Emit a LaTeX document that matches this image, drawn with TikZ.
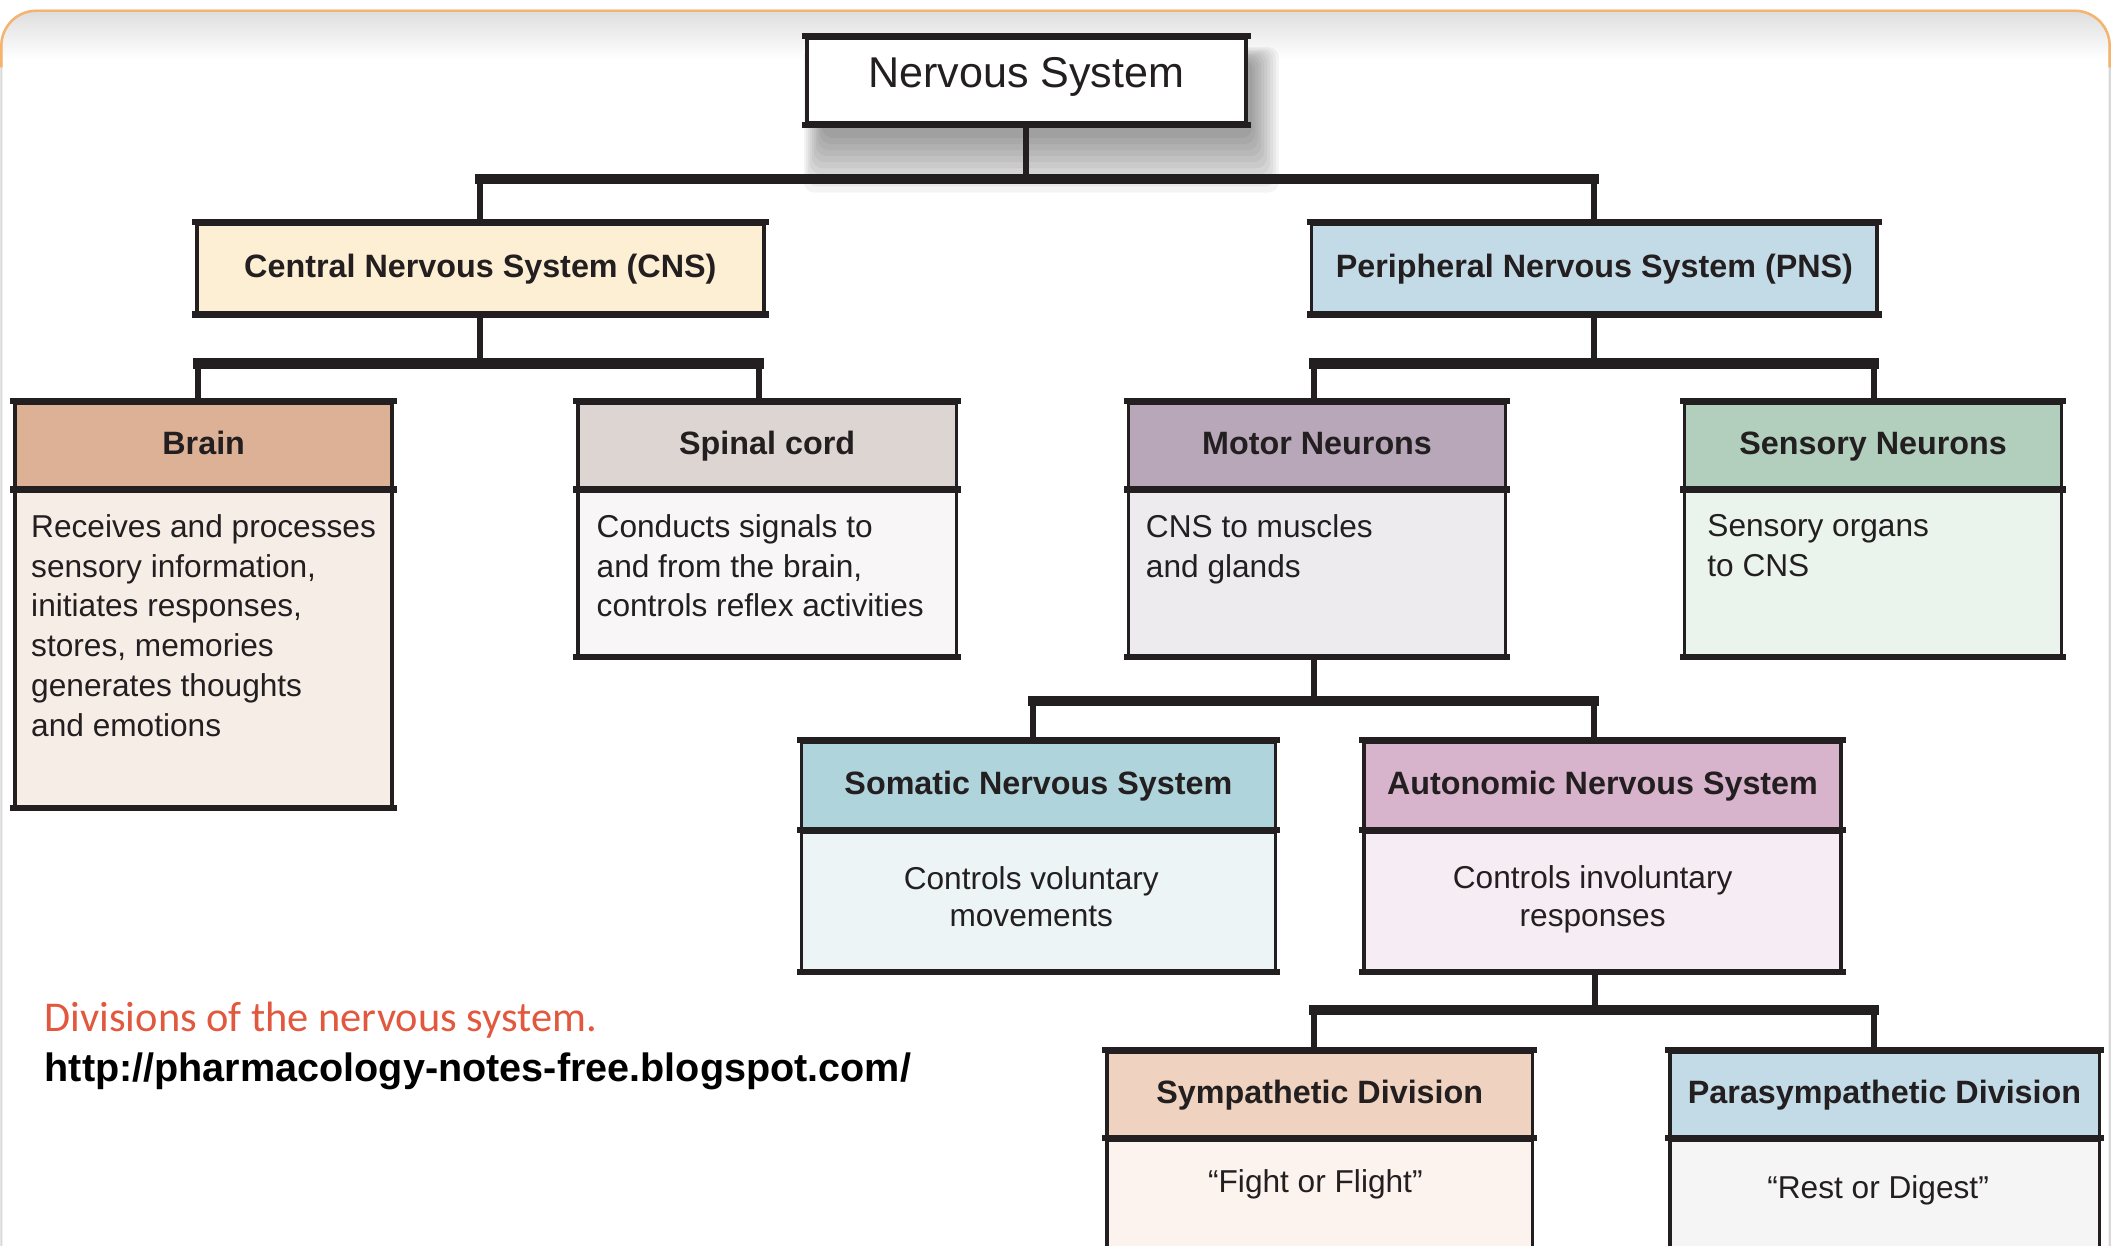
\documentclass[tikz,border=0pt]{standalone}
\usepackage{fontspec}
\setmainfont{Liberation Sans}
\newfontfamily\capfont{Carlito}
\definecolor{lc}{HTML}{231F20}
\definecolor{tc}{HTML}{231F20}
\definecolor{capred}{HTML}{E2583E}
\definecolor{frameorange}{HTML}{F6B36C}
\definecolor{framegray}{HTML}{D8D8D8}
\definecolor{cnsfill}{HTML}{FDEFD3}
\definecolor{pnsfill}{HTML}{C3DBE6}
\definecolor{brainH}{HTML}{DCB196}
\definecolor{brainB}{HTML}{F6EDE7}
\definecolor{spinH}{HTML}{DDD5D2}
\definecolor{spinB}{HTML}{F8F6F6}
\definecolor{motH}{HTML}{B8A7B9}
\definecolor{motB}{HTML}{EEEBEF}
\definecolor{senH}{HTML}{B1CFBC}
\definecolor{senB}{HTML}{EAF4EC}
\definecolor{somH}{HTML}{B0D4DB}
\definecolor{somB}{HTML}{ECF4F6}
\definecolor{autH}{HTML}{D8B3CC}
\definecolor{autB}{HTML}{F6ECF3}
\definecolor{symH}{HTML}{EFD2C0}
\definecolor{symB}{HTML}{FCF3EF}
\definecolor{parH}{HTML}{C3DBE6}
\definecolor{parB}{HTML}{F6F5F6}
\newcommand{\hfont}{\bfseries\fontsize{24}{28}\selectfont}
\newcommand{\btfont}{\fontsize{23.5}{29.5}\selectfont}
\newcommand{\ctfont}{\fontsize{23.5}{28}\selectfont}
\begin{document}
\begin{tikzpicture}[x=1pt,y=-1pt,
  box/.style={rectangle, draw=lc, line width=2.6pt, inner sep=0pt, anchor=north west, text=tc},
  hdr/.style={box, font=\hfont, text height=17pt, text depth=3pt},
  edgeline/.style={draw=lc, line width=4.5pt, line cap=rect},
  stem/.style={draw=lc, line width=4.5pt},
  bar/.style={draw=lc, line width=7.5pt, line cap=rect},
  ltxt/.style={anchor=north west, align=left, font=\btfont, inner sep=0pt, text=tc},
  ctxt/.style={align=center, font=\ctfont, inner sep=0pt, text=tc}]
\useasboundingbox (0,0) rectangle (1568,925);
\fill[white] (0,0) rectangle (1568,925);
% frame
\begin{scope}
\clip[rounded corners=26pt] (1,930) -- (1,8) -- (1567,8) -- (1567,930) -- cycle;
\shade[top color=black!13, bottom color=white] (0,8) rectangle (1568,44);
\end{scope}
\draw[framegray, line width=1.6pt, rounded corners=26pt] (1,930) -- (1,8) -- (1567,8) -- (1567,930);
\draw[frameorange, line width=1.8pt, rounded corners=26pt] (1,50) -- (1,8) -- (1567,8) -- (1567,50);
% shadow of top box
\foreach \i in {1,...,10} {
  \fill[black, opacity=0.045, rounded corners=8pt] (612-1.5*\i,45-\i) rectangle (928+2.2*\i,98+4.5*\i);
}
% top box
\node[box, fill=white, minimum width=326pt, minimum height=63pt, font=\fontsize{32}{36}\selectfont, text height=23pt, text depth=12pt] (ns) at (598,27) {Nervous System};
% level 1
\node[hdr, fill=cnsfill, minimum width=421pt, minimum height=66pt] (cns) at (145,165) {Central Nervous System (CNS)};
\node[hdr, fill=pnsfill, minimum width=420pt, minimum height=66pt] (pns) at (973,165) {Peripheral Nervous System (PNS)};
\foreach \n in {ns,cns,pns} {
  \draw[edgeline] (\n.north west) -- (\n.north east);
  \draw[edgeline] (\n.south west) -- (\n.south east);
}
% level 2
\node[hdr, fill=brainH, minimum width=280pt, minimum height=63pt] (brainH) at (10,298) {Brain};
\node[box, fill=brainB, minimum width=280pt, minimum height=234pt] (brainB) at (brainH.south west) {};
\node[hdr, fill=spinH, minimum width=281pt, minimum height=63pt] (spinalH) at (428,298) {Spinal cord};
\node[box, fill=spinB, minimum width=281pt, minimum height=122pt] (spinalB) at (spinalH.south west) {};
\node[hdr, fill=motH, minimum width=280pt, minimum height=63pt] (motorH) at (837,298) {Motor Neurons};
\node[box, fill=motB, minimum width=280pt, minimum height=122pt] (motorB) at (motorH.south west) {};
\node[hdr, fill=senH, minimum width=280pt, minimum height=63pt] (sensH) at (1250,298) {Sensory Neurons};
\node[box, fill=senB, minimum width=280pt, minimum height=122pt] (sensB) at (sensH.south west) {};
% level 3
\node[hdr, fill=somH, minimum width=352pt, minimum height=64pt] (somH) at (594,550) {Somatic Nervous System};
\node[box, fill=somB, minimum width=352pt, minimum height=103pt] (somB) at (somH.south west) {};
\node[hdr, fill=autH, minimum width=354pt, minimum height=64pt] (autH) at (1012,550) {Autonomic Nervous System};
\node[box, fill=autB, minimum width=354pt, minimum height=103pt] (autB) at (autH.south west) {};
% level 4
\node[hdr, fill=symH, minimum width=316pt, minimum height=63pt] (symH) at (821,780) {Sympathetic Division};
\node[box, fill=symB, minimum width=316pt, minimum height=110pt] (symB) at (symH.south west) {};
\node[hdr, fill=parH, minimum width=319pt, minimum height=63pt] (parH) at (1239,780) {Parasympathetic Division};
\node[box, fill=parB, minimum width=319pt, minimum height=110pt] (parB) at (parH.south west) {};
\foreach \n in {brain,spinal,motor,sens,som,aut,sym,par} {
  \draw[edgeline] (\n H.north west) -- (\n H.north east);
  \draw[edgeline] (\n H.south west) -- (\n H.south east);
  \draw[edgeline] (\n B.south west) -- (\n B.south east);
}
% body texts
\node[ltxt] (brainT) at (23,382) {Receives and processes\\sensory information,\\initiates responses,\\stores, memories\\generates thoughts\\and emotions};
\node[ltxt] (spinalT) at (443,382) {Conducts signals to\\and from the brain,\\controls reflex activities};
\node[ltxt] (motorT) at (851,382) {CNS to muscles\\and glands};
\node[ltxt] (sensT) at (1268,382) {Sensory organs\\to CNS};
\node[ctxt] (somT) at (766,666) {Controls voluntary\\movements};
\node[ctxt] (autT) at (1183,668) {Controls involuntary\\responses};
\node[ctxt] (symT) at (977,880) {“Fight or Flight”};
\node[ctxt] (parT) at (1395,884) {“Rest or Digest”};
% connectors
\coordinate (b1) at (760,133);
\draw[stem] (ns.south) -- (ns.south |- b1);
\draw[bar] (cns.north |- b1) -- (pns.north |- b1);
\draw[stem] (cns.north |- b1) -- (cns.north);
\draw[stem] (pns.north |- b1) -- (pns.north);
\coordinate (b2L) at (147,270);
\coordinate (b2R) at (564,270);
\draw[stem] (cns.south) -- (cns.south |- b2L);
\draw[bar] (b2L) -- (b2R);
\draw[stem] (b2L) -- (b2L |- brainH.north);
\draw[stem] (b2R) -- (b2R |- spinalH.north);
\coordinate (b3L) at (976,270);
\coordinate (b3R) at (1392,270);
\draw[stem] (pns.south) -- (pns.south |- b3L);
\draw[bar] (b3L) -- (b3R);
\draw[stem] (b3L) -- (b3L |- motorH.north);
\draw[stem] (b3R) -- (b3R |- sensH.north);
\coordinate (b4L) at (767,521);
\coordinate (b4R) at (1184,521);
\coordinate (b4S) at (976,521);
\draw[stem] (b4S |- motorB.south) -- (b4S);
\draw[bar] (b4L) -- (b4R);
\draw[stem] (b4L) -- (b4L |- somH.north);
\draw[stem] (b4R) -- (b4R |- autH.north);
\coordinate (b5L) at (976,750);
\coordinate (b5R) at (1392,750);
\coordinate (b5S) at (1185,750);
\draw[stem] (b5S |- autB.south) -- (b5S);
\draw[bar] (b5L) -- (b5R);
\draw[stem] (b5L) -- (b5L |- symH.north);
\draw[stem] (b5R) -- (b5R |- parH.north);
% caption
\node[anchor=base west, inner sep=0pt, font=\capfont\fontsize{31.5}{36}\selectfont, text=capred] (cap) at (33,766) {Divisions of the nervous system.};
\node[anchor=base west, inner sep=0pt, font=\bfseries\fontsize{29.4}{34}\selectfont, text=black] (url) at (33,803) {http://pharmacology-notes-free.blogspot.com/};
\end{tikzpicture}
\end{document}
